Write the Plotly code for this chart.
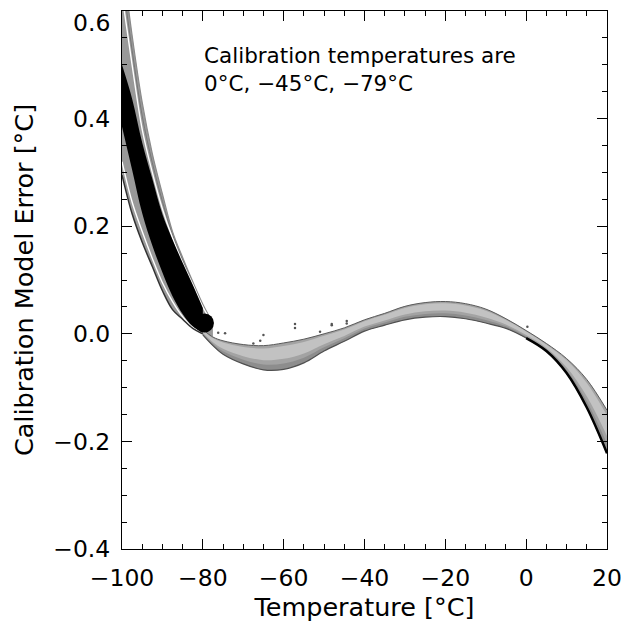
import numpy as np
import plotly.graph_objects as go

# ---------------- data ----------------
# left part (-100 .. -77.5 °C): spread of the many model-error curves
GRAY_T      = [-100, -97.5, -95, -92.5, -90, -87.5, -85, -82.5, -80, -77.5]
UPPER_OUT   = [0.70, 0.555, 0.43, 0.335, 0.26, 0.19, 0.142, 0.097, 0.055, 0.020]
UPPER_GRAY  = [0.665, 0.527, 0.405, 0.318, 0.246, 0.184, 0.137, 0.094, 0.052, 0.019]
UPPER_WHITE = [0.63, 0.50, 0.38, 0.30, 0.232, 0.178, 0.132, 0.092, 0.050, 0.018]
LOWER_WHITE = [0.32, 0.245, 0.19, 0.14, 0.095, 0.06, 0.032, 0.012, 0.001, -0.006]
LOWER_OUT   = [0.295, 0.223, 0.17, 0.125, 0.08, 0.045, 0.027, 0.01, 0.0, -0.008]

# dense (black) bundle
BLACK_T  = [-100, -97.5, -95, -92.5, -90, -87.5, -85, -82.5, -80]
BLACK_UP = [0.50, 0.437, 0.355, 0.288, 0.222, 0.175, 0.132, 0.091, 0.048]
BLACK_LO = [0.385, 0.305, 0.224, 0.164, 0.114, 0.07, 0.037, 0.014, 0.002]
BLACK_END_T = [-79.6]
BLACK_END_E = [0.02]

# right part (-80 .. 20 °C): narrow band of curves
BAND_T   = [-80, -77.5, -75, -70, -65, -60, -55, -50, -45, -40, -35, -30,
            -25, -20, -15, -10, -5, 0, 5, 10, 15, 20]
BAND_TOP = [0.008, -0.006, -0.013, -0.02, -0.022, -0.017, -0.01, 0.0, 0.011,
            0.026, 0.038, 0.051, 0.058, 0.06, 0.056, 0.046, 0.028, 0.006,
            -0.018, -0.046, -0.085, -0.142]
BAND_BOT = [-0.002, -0.022, -0.038, -0.056, -0.067, -0.066, -0.054, -0.032,
            -0.014, 0.005, 0.016, 0.026, 0.031, 0.032, 0.028, 0.02, 0.01,
            -0.008, -0.032, -0.073, -0.137, -0.222]

# stray points above the band
DOTS_T = [-76.2, -74.5, -65.0, -65.8, -57.2, -57.2, -48.1, -44.4, -44.4, -51.0, -67.5, -48.1, 0.3]
DOTS_E = [0.002, 0.001, -0.002, -0.013, 0.018, 0.011, 0.018, 0.024, 0.019, 0.004, -0.018, 0.016, 0.013]

X_TICKS = [-100, -80, -60, -40, -20, 0, 20]
Y_TICKS = [-0.4, -0.2, 0.0, 0.2, 0.4, 0.6]
Y_TICK_TEXT = ["−0.4", "−0.2", "0.0", "0.2", "0.4", ""]   # top label drawn separately (shifted down)
TOP_Y_LABEL = "0.6"

# ---------------- figure ----------------
fig = go.Figure()


def band(x, lo, hi, color):
    fig.add_trace(go.Scatter(x=x, y=lo, mode="lines", line=dict(width=0, shape="spline", color=color),
                             hoverinfo="skip"))
    fig.add_trace(go.Scatter(x=x, y=hi, mode="lines", fill="tonexty", fillcolor=color,
                             line=dict(width=0, shape="spline", color=color), hoverinfo="skip"))


def curve(x, y, color, width):
    fig.add_trace(go.Scatter(x=x, y=y, mode="lines", line=dict(color=color, width=width, shape="spline"),
                             hoverinfo="skip"))


# left spread (gray)
band(GRAY_T, LOWER_OUT, UPPER_OUT, "#999999")
curve(GRAY_T, UPPER_OUT, "#8a8a8a", 1.2)
curve(GRAY_T, UPPER_GRAY, "#777777", 1.0)
curve(GRAY_T, UPPER_WHITE, "#ffffff", 1.4)
curve(GRAY_T, LOWER_WHITE, "#ffffff", 1.4)
curve(GRAY_T, LOWER_OUT, "#333333", 1.5)

# right band with grey shading layers
bt = np.array(BAND_TOP)
bb = np.array(BAND_BOT)
d = bt - bb
band(BAND_T, BAND_BOT, BAND_TOP, "#a3a3a3")
band(BAND_T, list(bt - 0.60 * d), list(bt - 0.12 * d), "#c2c2c2")
band(BAND_T, BAND_BOT, list(bb + 0.22 * d), "#8d8d8d")
curve(BAND_T, BAND_TOP, "#5a5a5a", 1.0)
curve(BAND_T, BAND_BOT, "#505050", 1.2)
curve(BAND_T[17:], BAND_BOT[17:], "#000000", 2.5)

fig.add_trace(go.Scatter(x=DOTS_T, y=DOTS_E, mode="markers",
                         marker=dict(size=2.5, color="#555555"), hoverinfo="skip"))

# dense black bundle on top
band(BLACK_T, BLACK_LO, BLACK_UP, "#000000")
fig.add_trace(go.Scatter(x=BLACK_END_T, y=BLACK_END_E, mode="markers",
                         marker=dict(size=19, color="#000000", line=dict(width=0)),
                         hoverinfo="skip"))

FONT = "DejaVu Sans"
axis_common = dict(
    showgrid=False, zeroline=False, showline=True, linecolor="black", linewidth=1,
    mirror="ticks", ticks="inside", ticklen=10, tickwidth=1, tickcolor="black",
    tickfont=dict(family=FONT, size=23.5, color="black"), automargin=False,
    ticklabeloverflow="allow",
)

SPLIT = 1 - (69.5 - 11) / 538   # boundary between the two note lines (paper coords)

fig.update_layout(
    width=621, height=624, autosize=False,
    margin=dict(l=122, r=14, t=11, b=75),
    plot_bgcolor="white", paper_bgcolor="white", showlegend=False,
    font=dict(family=FONT, size=23, color="black"),
    xaxis=dict(range=[-100, 20], tickvals=X_TICKS, ticklabelstandoff=8,
               minor=dict(ticks="inside", ticklen=5, dtick=5, tick0=0, tickcolor="black", showgrid=False),
               title=dict(text="Temperature [°C]", font=dict(family=FONT, size=25.5), standoff=3),
               **axis_common),
    yaxis=dict(range=[-0.4, 0.6], tickvals=Y_TICKS, ticktext=Y_TICK_TEXT, ticklabelstandoff=6,
               minor=dict(ticks="inside", ticklen=5, dtick=0.05, tick0=0, tickcolor="black", showgrid=False),
               title=dict(text="Calibration Model Error [°C]", font=dict(family=FONT, size=25.5), standoff=12),
               **axis_common),
    annotations=[
        dict(text=TOP_Y_LABEL, xref="paper", yref="paper", x=-0.02, y=1 - (23 - 11) / 538,
             xanchor="right", yanchor="middle", showarrow=False,
             font=dict(family=FONT, size=23.5, color="black")),
        dict(text="Calibration temperatures are", xref="paper", yref="paper",
             x=0.167, y=SPLIT, xanchor="left", yanchor="bottom", showarrow=False, borderpad=0,
             font=dict(family=FONT, size=21.5, color="black")),
        dict(text="0°C, −45°C, −79°C", xref="paper", yref="paper",
             x=0.167, y=SPLIT, xanchor="left", yanchor="top", showarrow=False, borderpad=0,
             font=dict(family=FONT, size=21.5, color="black")),
    ],
)

fig.write_html("out.html", config={"displayModeBar": False},
               post_script="document.body.style.margin='0px';document.body.style.overflow='hidden';")
